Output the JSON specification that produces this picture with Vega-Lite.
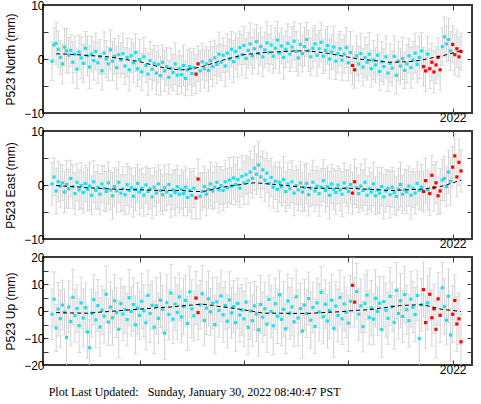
{
"$schema": "https://vega.github.io/schema/vega-lite/v6.json",
"padding": {"left": 3, "top": -2, "right": 2, "bottom": 2},
"background": "white",
"config": {
  "view": {"stroke": "#3a3a3a", "strokeWidth": 2},
  "font": "Liberation Sans",
  "axis": {"grid": false, "domain": false, "minExtent": 0, "tickColor": "#3a3a3a", "tickSize": -5, "tickWidth": 1, "labelFont": "Liberation Sans", "labelFontSize": 12, "labelColor": "black", "titleFont": "Liberation Sans", "titleFontSize": 12, "titleFontWeight": "normal", "titleColor": "black", "labelPadding": 4, "titlePadding": 6}
},
"title": {"text": "Plot Last Updated:\u00a0\u00a0\u00a0Sunday, January 30, 2022 08:40:47 PST", "orient": "bottom", "anchor": "start", "dx": 45, "font": "Liberation Serif", "fontSize": 12, "fontWeight": "normal", "color": "black", "offset": 11},
"datasets": {
"obs": [
{"t":2018.16,"n":-0.4,"e":0.2,"u":-1.2,"sn":3.6,"se":3.9,"su":9.4},
{"t":2018.18,"n":2.6,"e":1.5,"u":4.4,"sn":3.2,"se":3.5,"su":10.1},
{"t":2018.20,"n":2.9,"e":-1.1,"u":-6.3,"sn":3.9,"se":4.2,"su":8.7},
{"t":2018.22,"n":1.8,"e":0.6,"u":0.7,"sn":3.4,"se":3.7,"su":9.9},
{"t":2018.24,"n":0.3,"e":-0.2,"u":-2.8,"sn":3.1,"se":4.0,"su":10.6},
{"t":2018.26,"n":-0.9,"e":0.4,"u":2.2,"sn":3.7,"se":3.3,"su":9.2},
{"t":2018.28,"n":2.2,"e":-1.3,"u":-0.4,"sn":3.5,"se":3.8,"su":8.5},
{"t":2018.30,"n":1.5,"e":0.1,"u":-9.8,"sn":4.1,"se":4.4,"su":10.9},
{"t":2018.32,"n":0.7,"e":-0.7,"u":1.5,"sn":3.3,"se":3.6,"su":9.6},
{"t":2018.34,"n":1.6,"e":1.2,"u":-3.9,"sn":3.0,"se":3.4,"su":9.0},
{"t":2018.36,"n":-0.6,"e":-0.3,"u":5.1,"sn":3.8,"se":4.1,"su":10.3},
{"t":2018.38,"n":0.9,"e":-1.6,"u":-1.7,"sn":3.4,"se":3.9,"su":9.8},
{"t":2018.40,"n":-1.9,"e":0.5,"u":0.9,"sn":3.6,"se":3.5,"su":8.8},
{"t":2018.42,"n":1.3,"e":-0.9,"u":-5.4,"sn":3.2,"se":3.7,"su":10.0},
{"t":2018.44,"n":0.2,"e":-0.1,"u":3.0,"sn":3.9,"se":4.3,"su":9.5},
{"t":2018.46,"n":-0.8,"e":-1.4,"u":-2.6,"sn":3.5,"se":3.8,"su":10.7},
{"t":2018.48,"n":2.0,"e":0.3,"u":1.2,"sn":3.1,"se":3.4,"su":9.1},
{"t":2018.50,"n":0.6,"e":-0.8,"u":-7.8,"sn":3.7,"se":4.0,"su":9.7},
{"t":2018.52,"n":-1.5,"e":-0.2,"u":-13.6,"sn":4.0,"se":4.4,"su":10.4},
{"t":2018.54,"n":0.9,"e":-1.9,"u":-0.8,"sn":3.3,"se":3.6,"su":8.9},
{"t":2018.56,"n":-0.3,"e":0.6,"u":4.2,"sn":3.6,"se":3.9,"su":9.3},
{"t":2018.58,"n":1.4,"e":-1.0,"u":-3.3,"sn":3.4,"se":3.5,"su":10.2},
{"t":2018.60,"n":-0.7,"e":-0.4,"u":2.0,"sn":3.8,"se":4.1,"su":9.6},
{"t":2018.62,"n":0.4,"e":-1.7,"u":-5.9,"sn":3.2,"se":3.8,"su":10.8},
{"t":2018.64,"n":-2.2,"e":0.2,"u":0.3,"sn":3.5,"se":3.4,"su":9.0},
{"t":2018.66,"n":1.1,"e":-0.6,"u":-1.9,"sn":3.9,"se":4.2,"su":9.9},
{"t":2018.68,"n":0.0,"e":-1.2,"u":6.2,"sn":3.4,"se":3.7,"su":10.5},
{"t":2018.70,"n":-0.9,"e":0.4,"u":-4.1,"sn":3.1,"se":3.9,"su":8.6},
{"t":2018.72,"n":1.7,"e":-0.9,"u":1.4,"sn":3.7,"se":3.6,"su":9.4},
{"t":2018.74,"n":-0.4,"e":-2.0,"u":-2.5,"sn":3.6,"se":4.3,"su":10.1},
{"t":2018.76,"n":0.5,"e":-0.3,"u":3.8,"sn":3.3,"se":3.5,"su":9.8},
{"t":2018.78,"n":-1.6,"e":-1.1,"u":-0.6,"sn":4.0,"se":4.0,"su":9.2},
{"t":2018.80,"n":0.8,"e":0.5,"u":-6.8,"sn":3.5,"se":3.8,"su":10.6},
{"t":2018.82,"n":-0.2,"e":-1.5,"u":2.7,"sn":3.2,"se":3.4,"su":9.3},
{"t":2018.84,"n":1.0,"e":-0.7,"u":-1.1,"sn":3.8,"se":4.1,"su":10.0},
{"t":2018.86,"n":-1.3,"e":-1.8,"u":0.5,"sn":3.4,"se":3.7,"su":8.7},
{"t":2018.88,"n":0.3,"e":0.1,"u":-3.2,"sn":3.6,"se":3.9,"su":9.7},
{"t":2018.90,"n":-2.0,"e":-1.0,"u":4.9,"sn":3.9,"se":4.4,"su":10.4},
{"t":2018.92,"n":0.6,"e":-0.5,"u":-0.2,"sn":3.1,"se":3.6,"su":9.1},
{"t":2018.94,"n":-0.7,"e":-2.1,"u":2.4,"sn":3.7,"se":3.8,"su":9.9},
{"t":2018.96,"n":1.2,"e":-0.8,"u":-5.1,"sn":3.5,"se":4.0,"su":10.7},
{"t":2018.98,"n":-1.8,"e":0.3,"u":1.0,"sn":3.3,"se":3.5,"su":9.5},
{"t":2019.00,"n":-0.1,"e":-1.3,"u":-1.6,"sn":3.8,"se":4.2,"su":8.9},
{"t":2019.02,"n":-2.4,"e":-0.6,"u":3.6,"sn":3.4,"se":3.7,"su":10.2},
{"t":2019.04,"n":0.4,"e":-1.9,"u":0.1,"sn":3.6,"se":3.9,"su":9.6},
{"t":2019.06,"n":-1.2,"e":0.0,"u":-4.4,"sn":3.2,"se":3.4,"su":10.0},
{"t":2019.08,"n":-2.8,"e":-1.2,"u":5.8,"sn":3.9,"se":4.3,"su":9.3},
{"t":2019.10,"n":-0.3,"e":-0.7,"u":-0.9,"sn":3.5,"se":3.8,"su":10.8},
{"t":2019.12,"n":-1.9,"e":-2.2,"u":2.1,"sn":3.7,"se":4.0,"su":9.0},
{"t":2019.14,"n":-0.8,"e":-0.4,"u":-6.0,"sn":3.3,"se":3.6,"su":9.8},
{"t":2019.16,"n":-2.6,"e":-1.5,"u":1.9,"sn":4.0,"se":4.1,"su":10.5},
{"t":2019.18,"n":-1.0,"e":0.2,"u":-2.7,"sn":3.4,"se":3.5,"su":9.2},
{"t":2019.20,"n":-3.1,"e":-1.0,"u":4.0,"sn":3.6,"se":3.9,"su":10.1},
{"t":2019.22,"n":-0.6,"e":-1.8,"u":0.6,"sn":3.2,"se":3.7,"su":8.8},
{"t":2019.24,"n":-2.2,"e":-0.5,"u":-8.2,"sn":3.8,"se":4.2,"su":9.7},
{"t":2019.26,"n":-1.4,"e":-1.3,"u":3.1,"sn":3.5,"se":3.4,"su":10.3},
{"t":2019.28,"n":-3.4,"e":0.1,"u":-1.3,"sn":3.1,"se":3.8,"su":9.4},
{"t":2019.30,"n":-1.7,"e":-2.0,"u":6.7,"sn":3.7,"se":4.0,"su":10.6},
{"t":2019.32,"n":-2.5,"e":-0.9,"u":-3.0,"sn":3.4,"se":3.6,"su":9.1},
{"t":2019.34,"n":-0.9,"e":-1.4,"u":2.6,"sn":3.9,"se":4.3,"su":9.9},
{"t":2019.36,"n":-3.0,"e":-0.3,"u":-0.5,"sn":3.6,"se":3.9,"su":10.2},
{"t":2019.38,"n":-1.8,"e":-1.7,"u":5.2,"sn":3.3,"se":3.5,"su":8.9},
{"t":2019.40,"n":-2.9,"e":-0.8,"u":-2.2,"sn":3.5,"se":3.7,"su":9.6},
{"t":2019.42,"n":-1.2,"e":-1.6,"u":1.7,"sn":3.8,"se":4.1,"su":10.4},
{"t":2019.44,"n":-3.6,"e":-0.4,"u":3.9,"sn":3.2,"se":3.8,"su":9.3},
{"t":2019.46,"n":-2.0,"e":-2.3,"u":-4.6,"sn":3.7,"se":3.4,"su":10.0},
{"t":2019.48,"n":-1.4,"e":-1.0,"u":7.1,"sn":3.4,"se":4.0,"su":9.5},
{"t":2019.50,"n":-2.7,"e":-1.9,"u":0.8,"sn":4.0,"se":4.4,"su":10.8},
{"t":2019.52,"n":-1.6,"e":-0.6,"u":-1.8,"sn":3.5,"se":3.6,"su":9.2},
{"t":2019.54,"n":-2.8,"e":-2.4,"u":4.8,"sn":3.6,"se":3.9,"su":9.9,"f":1},
{"t":2019.56,"n":-0.9,"e":1.1,"u":-0.6,"sn":3.3,"se":3.7,"su":10.1,"f":1},
{"t":2019.58,"n":-2.2,"e":-2.1,"u":2.3,"sn":3.8,"se":4.2,"su":9.0},
{"t":2019.60,"n":-0.5,"e":-1.2,"u":6.4,"sn":3.4,"se":3.5,"su":10.5},
{"t":2019.62,"n":-1.8,"e":-0.3,"u":-3.5,"sn":3.6,"se":3.8,"su":9.4},
{"t":2019.64,"n":-0.9,"e":-1.7,"u":1.1,"sn":3.2,"se":4.0,"su":9.8},
{"t":2019.66,"n":-2.1,"e":-0.8,"u":4.5,"sn":3.9,"se":3.6,"su":10.3},
{"t":2019.68,"n":-0.3,"e":0.2,"u":-0.3,"sn":3.5,"se":4.1,"su":8.7},
{"t":2019.70,"n":-1.4,"e":-1.1,"u":2.9,"sn":3.7,"se":3.4,"su":9.6},
{"t":2019.72,"n":0.2,"e":-0.4,"u":-5.0,"sn":3.3,"se":3.9,"su":10.7},
{"t":2019.74,"n":-1.0,"e":0.5,"u":3.4,"sn":3.6,"se":3.7,"su":9.1},
{"t":2019.76,"n":0.9,"e":-0.9,"u":0.2,"sn":4.1,"se":4.3,"su":10.0},
{"t":2019.78,"n":-0.6,"e":-0.1,"u":5.6,"sn":3.4,"se":3.5,"su":9.5},
{"t":2019.80,"n":0.7,"e":-1.0,"u":-1.4,"sn":3.2,"se":3.8,"su":10.2},
{"t":2019.82,"n":-1.3,"e":0.6,"u":2.0,"sn":3.8,"se":4.0,"su":8.9},
{"t":2019.84,"n":1.1,"e":-0.5,"u":-3.8,"sn":3.5,"se":3.6,"su":9.8},
{"t":2019.86,"n":0.0,"e":0.9,"u":4.1,"sn":3.7,"se":4.2,"su":10.4},
{"t":2019.88,"n":1.8,"e":-0.2,"u":-0.7,"sn":3.3,"se":3.4,"su":9.3},
{"t":2019.90,"n":-0.5,"e":1.3,"u":1.6,"sn":3.9,"se":3.9,"su":9.7},
{"t":2019.92,"n":1.4,"e":0.1,"u":-4.3,"sn":3.4,"se":3.7,"su":10.6},
{"t":2019.94,"n":0.3,"e":1.0,"u":2.8,"sn":3.6,"se":4.1,"su":9.2},
{"t":2019.96,"n":2.1,"e":-0.6,"u":-1.5,"sn":3.1,"se":3.5,"su":10.0},
{"t":2019.98,"n":0.8,"e":1.6,"u":0.4,"sn":3.8,"se":3.8,"su":9.4},
{"t":2020.00,"n":2.5,"e":0.4,"u":-2.9,"sn":3.5,"se":4.0,"su":10.3},
{"t":2020.02,"n":0.1,"e":1.9,"u":3.3,"sn":3.7,"se":3.6,"su":8.8},
{"t":2020.04,"n":1.6,"e":0.8,"u":-6.1,"sn":3.3,"se":4.3,"su":9.9},
{"t":2020.06,"n":2.8,"e":2.4,"u":0.0,"sn":3.9,"se":3.9,"su":10.5},
{"t":2020.08,"n":0.6,"e":1.2,"u":-3.6,"sn":3.4,"se":3.5,"su":9.6},
{"t":2020.10,"n":1.9,"e":3.1,"u":1.9,"sn":3.6,"se":4.1,"su":9.1},
{"t":2020.12,"n":3.2,"e":2.0,"u":-1.1,"sn":3.2,"se":3.7,"su":10.2},
{"t":2020.14,"n":1.0,"e":3.7,"u":-7.0,"sn":3.8,"se":4.4,"su":9.7},
{"t":2020.16,"n":2.3,"e":1.5,"u":2.4,"sn":3.5,"se":3.8,"su":10.8},
{"t":2020.18,"n":0.4,"e":2.8,"u":-2.3,"sn":3.7,"se":3.5,"su":9.3},
{"t":2020.20,"n":1.7,"e":0.9,"u":0.8,"sn":3.3,"se":4.0,"su":9.9},
{"t":2020.22,"n":3.0,"e":2.2,"u":-4.9,"sn":3.9,"se":3.7,"su":10.4},
{"t":2020.24,"n":1.2,"e":0.3,"u":4.3,"sn":3.4,"se":4.2,"su":9.0},
{"t":2020.26,"n":2.6,"e":1.4,"u":-0.2,"sn":3.6,"se":3.6,"su":9.8},
{"t":2020.28,"n":0.5,"e":-0.4,"u":-5.5,"sn":3.2,"se":3.9,"su":10.6},
{"t":2020.30,"n":2.0,"e":0.7,"u":2.7,"sn":3.8,"se":3.4,"su":9.5},
{"t":2020.32,"n":3.5,"e":-0.8,"u":-1.9,"sn":3.5,"se":4.1,"su":10.1},
{"t":2020.34,"n":1.1,"e":0.5,"u":6.0,"sn":3.7,"se":3.8,"su":8.9},
{"t":2020.36,"n":2.4,"e":-0.3,"u":-3.1,"sn":3.3,"se":3.5,"su":9.7},
{"t":2020.38,"n":0.3,"e":1.0,"u":0.6,"sn":4.0,"se":4.3,"su":10.3},
{"t":2020.40,"n":1.8,"e":-1.2,"u":-6.6,"sn":3.4,"se":3.7,"su":9.2},
{"t":2020.42,"n":2.9,"e":0.2,"u":3.7,"sn":3.6,"se":4.0,"su":10.0},
{"t":2020.44,"n":0.9,"e":-0.7,"u":-0.8,"sn":3.2,"se":3.6,"su":9.6},
{"t":2020.46,"n":2.2,"e":0.6,"u":1.5,"sn":3.8,"se":3.9,"su":10.7},
{"t":2020.48,"n":3.3,"e":-1.5,"u":-4.0,"sn":3.5,"se":4.2,"su":9.1},
{"t":2020.50,"n":1.4,"e":-0.1,"u":5.3,"sn":3.7,"se":3.5,"su":9.9},
{"t":2020.52,"n":0.2,"e":-0.9,"u":-2.6,"sn":3.3,"se":3.8,"su":10.4},
{"t":2020.54,"n":2.7,"e":0.4,"u":0.9,"sn":3.9,"se":4.0,"su":9.3},
{"t":2020.56,"n":1.0,"e":-1.3,"u":-7.4,"sn":3.4,"se":3.6,"su":10.2},
{"t":2020.58,"n":2.3,"e":-0.5,"u":2.2,"sn":3.6,"se":4.3,"su":9.5},
{"t":2020.60,"n":3.6,"e":0.3,"u":-1.0,"sn":3.2,"se":3.7,"su":8.8},
{"t":2020.62,"n":1.5,"e":-1.8,"u":4.6,"sn":3.8,"se":3.9,"su":9.8},
{"t":2020.64,"n":0.4,"e":-0.6,"u":-3.4,"sn":3.5,"se":3.4,"su":10.5},
{"t":2020.66,"n":2.0,"e":0.5,"u":1.3,"sn":3.7,"se":4.1,"su":9.4},
{"t":2020.68,"n":2.8,"e":-1.1,"u":-5.7,"sn":3.3,"se":3.8,"su":10.0},
{"t":2020.70,"n":0.7,"e":-0.2,"u":3.0,"sn":3.9,"se":3.6,"su":9.2},
{"t":2020.72,"n":1.9,"e":-1.6,"u":-0.4,"sn":3.4,"se":4.2,"su":10.6},
{"t":2020.74,"n":3.1,"e":-0.4,"u":6.9,"sn":3.6,"se":3.5,"su":9.7},
{"t":2020.76,"n":0.5,"e":0.8,"u":-2.1,"sn":3.2,"se":3.9,"su":10.1},
{"t":2020.78,"n":1.6,"e":-1.0,"u":2.5,"sn":3.8,"se":4.0,"su":9.0},
{"t":2020.80,"n":2.5,"e":-0.3,"u":-3.7,"sn":3.5,"se":3.7,"su":9.9},
{"t":2020.82,"n":0.0,"e":-1.9,"u":0.2,"sn":3.7,"se":4.4,"su":10.3},
{"t":2020.84,"n":1.3,"e":0.2,"u":4.0,"sn":3.3,"se":3.6,"su":9.4},
{"t":2020.86,"n":2.2,"e":-0.8,"u":-6.4,"sn":3.9,"se":3.8,"su":10.7},
{"t":2020.88,"n":-0.4,"e":-1.4,"u":1.8,"sn":3.4,"se":4.1,"su":9.1},
{"t":2020.90,"n":1.0,"e":0.0,"u":-1.6,"sn":3.6,"se":3.5,"su":9.8},
{"t":2020.92,"n":1.9,"e":-0.9,"u":5.0,"sn":3.2,"se":3.9,"su":10.2},
{"t":2020.94,"n":-0.2,"e":-1.7,"u":-2.9,"sn":3.8,"se":4.2,"su":9.5},
{"t":2020.96,"n":0.9,"e":0.4,"u":2.6,"sn":3.5,"se":3.7,"su":10.0},
{"t":2020.98,"n":2.1,"e":-0.6,"u":-0.5,"sn":3.7,"se":3.4,"su":9.3},
{"t":2021.00,"n":-0.7,"e":-1.2,"u":-4.5,"sn":3.3,"se":4.0,"su":10.5},
{"t":2021.02,"n":1.2,"e":0.1,"u":3.6,"sn":3.9,"se":3.6,"su":9.6},
{"t":2021.04,"n":-1.2,"e":-1.5,"u":9.5,"sn":3.6,"se":3.9,"su":10.1,"f":1},
{"t":2021.06,"n":-2.0,"e":0.6,"u":3.3,"sn":3.4,"se":4.2,"su":9.2,"f":1},
{"t":2021.08,"n":0.6,"e":-0.5,"u":7.2,"sn":3.7,"se":3.7,"su":10.4},
{"t":2021.10,"n":-0.9,"e":-1.6,"u":-1.2,"sn":3.2,"se":3.5,"su":9.7},
{"t":2021.12,"n":1.0,"e":-0.2,"u":1.9,"sn":3.8,"se":4.1,"su":10.0},
{"t":2021.14,"n":-1.5,"e":-1.0,"u":-5.8,"sn":3.5,"se":3.8,"su":9.4},
{"t":2021.16,"n":0.3,"e":0.5,"u":2.8,"sn":3.7,"se":4.3,"su":10.8},
{"t":2021.18,"n":-0.6,"e":-1.9,"u":5.9,"sn":3.3,"se":3.6,"su":9.1},
{"t":2021.20,"n":0.9,"e":-0.7,"u":-2.4,"sn":4.0,"se":3.9,"su":9.9},
{"t":2021.22,"n":-1.8,"e":-1.3,"u":1.1,"sn":3.4,"se":3.7,"su":10.3},
{"t":2021.24,"n":-0.2,"e":0.2,"u":-3.0,"sn":3.6,"se":4.0,"su":9.5},
{"t":2021.26,"n":-1.1,"e":-2.0,"u":4.7,"sn":3.2,"se":3.5,"su":10.6},
{"t":2021.28,"n":0.7,"e":-0.9,"u":-0.1,"sn":3.8,"se":4.2,"su":9.0},
{"t":2021.30,"n":-2.3,"e":-1.5,"u":2.9,"sn":3.5,"se":3.8,"su":9.8},
{"t":2021.32,"n":-0.5,"e":-0.3,"u":-6.9,"sn":3.7,"se":3.6,"su":10.2},
{"t":2021.34,"n":-1.4,"e":-2.2,"u":3.5,"sn":3.3,"se":4.1,"su":9.3},
{"t":2021.36,"n":0.4,"e":-1.1,"u":0.3,"sn":3.9,"se":3.9,"su":10.0},
{"t":2021.38,"n":-2.6,"e":-0.6,"u":-2.7,"sn":3.4,"se":3.4,"su":9.6},
{"t":2021.40,"n":-0.8,"e":-1.8,"u":5.4,"sn":3.6,"se":4.3,"su":10.7},
{"t":2021.42,"n":-1.7,"e":-0.4,"u":1.6,"sn":3.2,"se":3.7,"su":9.2},
{"t":2021.44,"n":0.5,"e":-1.4,"u":-4.2,"sn":3.8,"se":4.0,"su":9.9},
{"t":2021.46,"n":-3.0,"e":-2.1,"u":7.6,"sn":3.5,"se":3.6,"su":10.4},
{"t":2021.48,"n":-0.4,"e":-0.8,"u":-0.9,"sn":3.7,"se":3.9,"su":9.4},
{"t":2021.50,"n":-1.3,"e":0.1,"u":3.8,"sn":3.3,"se":4.2,"su":10.1},
{"t":2021.52,"n":0.1,"e":-1.7,"u":-2.0,"sn":3.9,"se":3.5,"su":9.7},
{"t":2021.54,"n":-2.1,"e":-0.9,"u":6.1,"sn":3.4,"se":3.8,"su":10.5},
{"t":2021.56,"n":-0.9,"e":-1.3,"u":0.5,"sn":3.6,"se":4.1,"su":9.0},
{"t":2021.58,"n":0.6,"e":-0.2,"u":-3.6,"sn":3.2,"se":3.7,"su":9.8},
{"t":2021.60,"n":-1.6,"e":-1.9,"u":4.4,"sn":3.8,"se":4.4,"su":10.3},
{"t":2021.62,"n":-0.2,"e":-0.6,"u":1.4,"sn":3.5,"se":3.6,"su":9.5},
{"t":2021.64,"n":1.1,"e":-1.5,"u":-1.3,"sn":3.7,"se":3.9,"su":10.0},
{"t":2021.66,"n":-1.0,"e":0.3,"u":5.7,"sn":3.3,"se":4.0,"su":9.2},
{"t":2021.68,"n":0.3,"e":-1.0,"u":-10.2,"sn":3.9,"se":3.5,"su":10.6},
{"t":2021.70,"n":1.5,"e":-0.4,"u":2.3,"sn":3.4,"se":4.2,"su":9.7},
{"t":2021.72,"n":-1.4,"e":-1.2,"u":7.9,"sn":3.6,"se":3.8,"su":10.2,"f":1},
{"t":2021.74,"n":-2.2,"e":0.8,"u":-4.3,"sn":3.8,"se":4.1,"su":9.4,"f":1},
{"t":2021.76,"n":0.9,"e":-0.9,"u":3.0,"sn":3.3,"se":3.7,"su":10.0},
{"t":2021.78,"n":-1.8,"e":-1.6,"u":6.2,"sn":3.7,"se":4.0,"su":9.6,"f":1},
{"t":2021.80,"n":-0.6,"e":1.8,"u":-2.5,"sn":3.5,"se":3.6,"su":10.4,"f":1},
{"t":2021.82,"n":-2.4,"e":-0.5,"u":0.8,"sn":3.9,"se":4.3,"su":9.1,"f":1},
{"t":2021.84,"n":-1.1,"e":0.4,"u":-6.8,"sn":3.4,"se":3.9,"su":10.7,"f":1},
{"t":2021.86,"n":0.3,"e":-2.0,"u":4.5,"sn":3.6,"se":3.5,"su":9.8,"f":1},
{"t":2021.88,"n":-2.0,"e":-1.1,"u":-1.6,"sn":3.8,"se":4.2,"su":10.1,"f":1},
{"t":2021.90,"n":2.3,"e":0.9,"u":8.6,"sn":3.5,"se":3.8,"su":9.5},
{"t":2021.92,"n":4.1,"e":1.2,"u":1.7,"sn":3.7,"se":4.1,"su":10.3},
{"t":2021.94,"n":2.8,"e":-0.3,"u":-3.4,"sn":3.3,"se":3.7,"su":9.2},
{"t":2021.96,"n":3.6,"e":2.4,"u":5.5,"sn":3.9,"se":4.0,"su":10.0},
{"t":2021.98,"n":1.5,"e":0.7,"u":-8.9,"sn":3.6,"se":4.4,"su":9.7},
{"t":2022.00,"n":2.7,"e":3.3,"u":-1.2,"sn":3.4,"se":3.8,"su":10.5,"f":1},
{"t":2022.02,"n":0.8,"e":5.4,"u":3.9,"sn":3.8,"se":4.1,"su":9.3,"f":1},
{"t":2022.04,"n":1.9,"e":1.5,"u":-4.8,"sn":3.5,"se":3.6,"su":10.2,"f":1},
{"t":2022.06,"n":0.4,"e":4.2,"u":-2.9,"sn":3.7,"se":4.3,"su":9.6,"f":1},
{"t":2022.08,"n":1.4,"e":2.6,"u":-11.4,"sn":3.4,"se":3.9,"su":10.4,"f":1}
],
"model": [
{"t":2018.2,"mn":0.95,"me":-0.1,"mu":-0.6},
{"t":2018.3,"mn":0.9,"me":-0.25,"mu":-0.7},
{"t":2018.4,"mn":0.8,"me":-0.35,"mu":-0.75},
{"t":2018.5,"mn":0.65,"me":-0.5,"mu":-0.8},
{"t":2018.6,"mn":0.55,"me":-0.6,"mu":-0.5},
{"t":2018.7,"mn":0.4,"me":-0.7,"mu":-0.2},
{"t":2018.8,"mn":0.1,"me":-0.8,"mu":0.1},
{"t":2018.9,"mn":-0.2,"me":-0.85,"mu":0.4},
{"t":2019.0,"mn":-0.5,"me":-0.9,"mu":0.7},
{"t":2019.1,"mn":-1.0,"me":-0.95,"mu":1.0},
{"t":2019.2,"mn":-1.5,"me":-1.0,"mu":1.3},
{"t":2019.3,"mn":-1.8,"me":-1.0,"mu":1.5},
{"t":2019.4,"mn":-2.0,"me":-1.0,"mu":1.9},
{"t":2019.5,"mn":-1.8,"me":-1.2,"mu":2.2},
{"t":2019.6,"mn":-1.4,"me":-1.2,"mu":2.5},
{"t":2019.7,"mn":-0.8,"me":-0.8,"mu":2.0},
{"t":2019.8,"mn":-0.2,"me":-0.4,"mu":1.5},
{"t":2019.9,"mn":0.3,"me":-0.1,"mu":1.0},
{"t":2020.0,"mn":0.8,"me":0.15,"mu":0.4},
{"t":2020.1,"mn":1.0,"me":0.4,"mu":-0.2},
{"t":2020.2,"mn":1.2,"me":0.25,"mu":-0.8},
{"t":2020.3,"mn":1.3,"me":0.1,"mu":-0.8},
{"t":2020.4,"mn":1.4,"me":-0.1,"mu":-0.85},
{"t":2020.5,"mn":1.5,"me":-0.3,"mu":-0.9},
{"t":2020.6,"mn":1.5,"me":-0.45,"mu":-0.9},
{"t":2020.7,"mn":1.3,"me":-0.6,"mu":-0.7},
{"t":2020.8,"mn":1.05,"me":-0.6,"mu":-0.5},
{"t":2020.9,"mn":0.7,"me":-0.6,"mu":-0.3},
{"t":2021.0,"mn":0.35,"me":-0.6,"mu":0.0},
{"t":2021.1,"mn":0.0,"me":-0.7,"mu":0.3},
{"t":2021.2,"mn":-0.2,"me":-0.8,"mu":0.5},
{"t":2021.3,"mn":-0.4,"me":-0.9,"mu":1.0},
{"t":2021.4,"mn":-0.6,"me":-1.0,"mu":1.5},
{"t":2021.5,"mn":-0.55,"me":-0.95,"mu":2.0},
{"t":2021.6,"mn":-0.45,"me":-0.85,"mu":2.2},
{"t":2021.7,"mn":-0.2,"me":-0.8,"mu":2.3},
{"t":2021.8,"mn":0.2,"me":-0.5,"mu":1.5},
{"t":2021.9,"mn":0.6,"me":-0.2,"mu":0.6},
{"t":2022.0,"mn":1.1,"me":0.4,"mu":0.2},
{"t":2022.08,"mn":1.55,"me":0.9,"mu":-0.2}
]
},
"spacing": 18,
"bounds": "flush",
"vconcat": [
{
 "width": 429, "height": 108,
 "data": {"name": "obs"},
 "layer": [
  {
   "encoding": {
    "x": {"field": "t", "type": "quantitative", "scale": {"domain": [2018.074, 2022.185], "nice": false, "zero": false}, "axis": {"orient": "bottom", "values": [2019, 2020, 2021, 2022], "labelExpr": "datum.value == 2022 ? '2022' : ''", "title": null, "labelFlush": false}},
    "y": {"field": "n", "type": "quantitative", "scale": {"domain": [-10, 10], "nice": false, "zero": false}, "axis": {"orient": "left", "values": [-10, -5, 0, 5, 10], "labelExpr": "datum.value % 10 == 0 ? datum.label : ''", "title": "P523 North (mm)"}}
   },
   "layer": [
    {"mark": {"type": "errorbar", "color": "#d2d2d2", "clip": true, "ticks": {"size": 5}}, "encoding": {"yError": {"field": "sn"}}},
    {"mark": {"type": "point", "shape": "square", "filled": true, "size": 10, "opacity": 1, "clip": true}, "encoding": {"color": {"condition": {"test": "datum.f == 1", "value": "#ff0000"}, "value": "#18e2f2"}}}
   ]
  },
  {
   "data": {"name": "model"},
   "mark": {"type": "line", "color": "black", "strokeDash": [4, 3], "strokeWidth": 1, "clip": true, "interpolate": "monotone"},
   "encoding": {
    "x": {"field": "t", "type": "quantitative", "axis": {"orient": "top", "values": [2019, 2020, 2021, 2022], "labels": false, "title": null, "maxExtent": 0}},
    "y": {"field": "mn", "type": "quantitative", "axis": {"orient": "right", "values": [-10, -5, 0, 5, 10], "labels": false, "title": null, "maxExtent": 0}}
   }
  }
 ],
 "resolve": {"axis": {"x": "independent", "y": "independent"}}
},
{
 "width": 429, "height": 108,
 "data": {"name": "obs"},
 "layer": [
  {
   "encoding": {
    "x": {"field": "t", "type": "quantitative", "scale": {"domain": [2018.074, 2022.185], "nice": false, "zero": false}, "axis": {"orient": "bottom", "values": [2019, 2020, 2021, 2022], "labelExpr": "datum.value == 2022 ? '2022' : ''", "title": null, "labelFlush": false}},
    "y": {"field": "e", "type": "quantitative", "scale": {"domain": [-10, 10], "nice": false, "zero": false}, "axis": {"orient": "left", "values": [-10, -5, 0, 5, 10], "labelExpr": "datum.value % 10 == 0 ? datum.label : ''", "title": "P523 East (mm)"}}
   },
   "layer": [
    {"mark": {"type": "errorbar", "color": "#d2d2d2", "clip": true, "ticks": {"size": 5}}, "encoding": {"yError": {"field": "se"}}},
    {"mark": {"type": "point", "shape": "square", "filled": true, "size": 10, "opacity": 1, "clip": true}, "encoding": {"color": {"condition": {"test": "datum.f == 1", "value": "#ff0000"}, "value": "#18e2f2"}}}
   ]
  },
  {
   "data": {"name": "model"},
   "mark": {"type": "line", "color": "black", "strokeDash": [4, 3], "strokeWidth": 1, "clip": true, "interpolate": "monotone"},
   "encoding": {
    "x": {"field": "t", "type": "quantitative", "axis": {"orient": "top", "values": [2019, 2020, 2021, 2022], "labels": false, "title": null, "maxExtent": 0}},
    "y": {"field": "me", "type": "quantitative", "axis": {"orient": "right", "values": [-10, -5, 0, 5, 10], "labels": false, "title": null, "maxExtent": 0}}
   }
  }
 ],
 "resolve": {"axis": {"x": "independent", "y": "independent"}}
},
{
 "width": 429, "height": 108,
 "data": {"name": "obs"},
 "layer": [
  {
   "encoding": {
    "x": {"field": "t", "type": "quantitative", "scale": {"domain": [2018.074, 2022.185], "nice": false, "zero": false}, "axis": {"orient": "bottom", "values": [2019, 2020, 2021, 2022], "labelExpr": "datum.value == 2022 ? '2022' : ''", "title": null, "labelFlush": false}},
    "y": {"field": "u", "type": "quantitative", "scale": {"domain": [-20, 20], "nice": false, "zero": false}, "axis": {"orient": "left", "values": [-20, -15, -10, -5, 0, 5, 10, 15, 20], "labelExpr": "datum.value % 10 == 0 ? datum.label : ''", "title": "P523 Up (mm)"}}
   },
   "layer": [
    {"mark": {"type": "errorbar", "color": "#d2d2d2", "clip": true, "ticks": {"size": 5}}, "encoding": {"yError": {"field": "su"}}},
    {"mark": {"type": "point", "shape": "square", "filled": true, "size": 10, "opacity": 1, "clip": true}, "encoding": {"color": {"condition": {"test": "datum.f == 1", "value": "#ff0000"}, "value": "#18e2f2"}}}
   ]
  },
  {
   "data": {"name": "model"},
   "mark": {"type": "line", "color": "black", "strokeDash": [4, 3], "strokeWidth": 1, "clip": true, "interpolate": "monotone"},
   "encoding": {
    "x": {"field": "t", "type": "quantitative", "axis": {"orient": "top", "values": [2019, 2020, 2021, 2022], "labels": false, "title": null, "maxExtent": 0}},
    "y": {"field": "mu", "type": "quantitative", "axis": {"orient": "right", "values": [-20, -15, -10, -5, 0, 5, 10, 15, 20], "labels": false, "title": null, "maxExtent": 0}}
   }
  }
 ],
 "resolve": {"axis": {"x": "independent", "y": "independent"}}
}
]
}
